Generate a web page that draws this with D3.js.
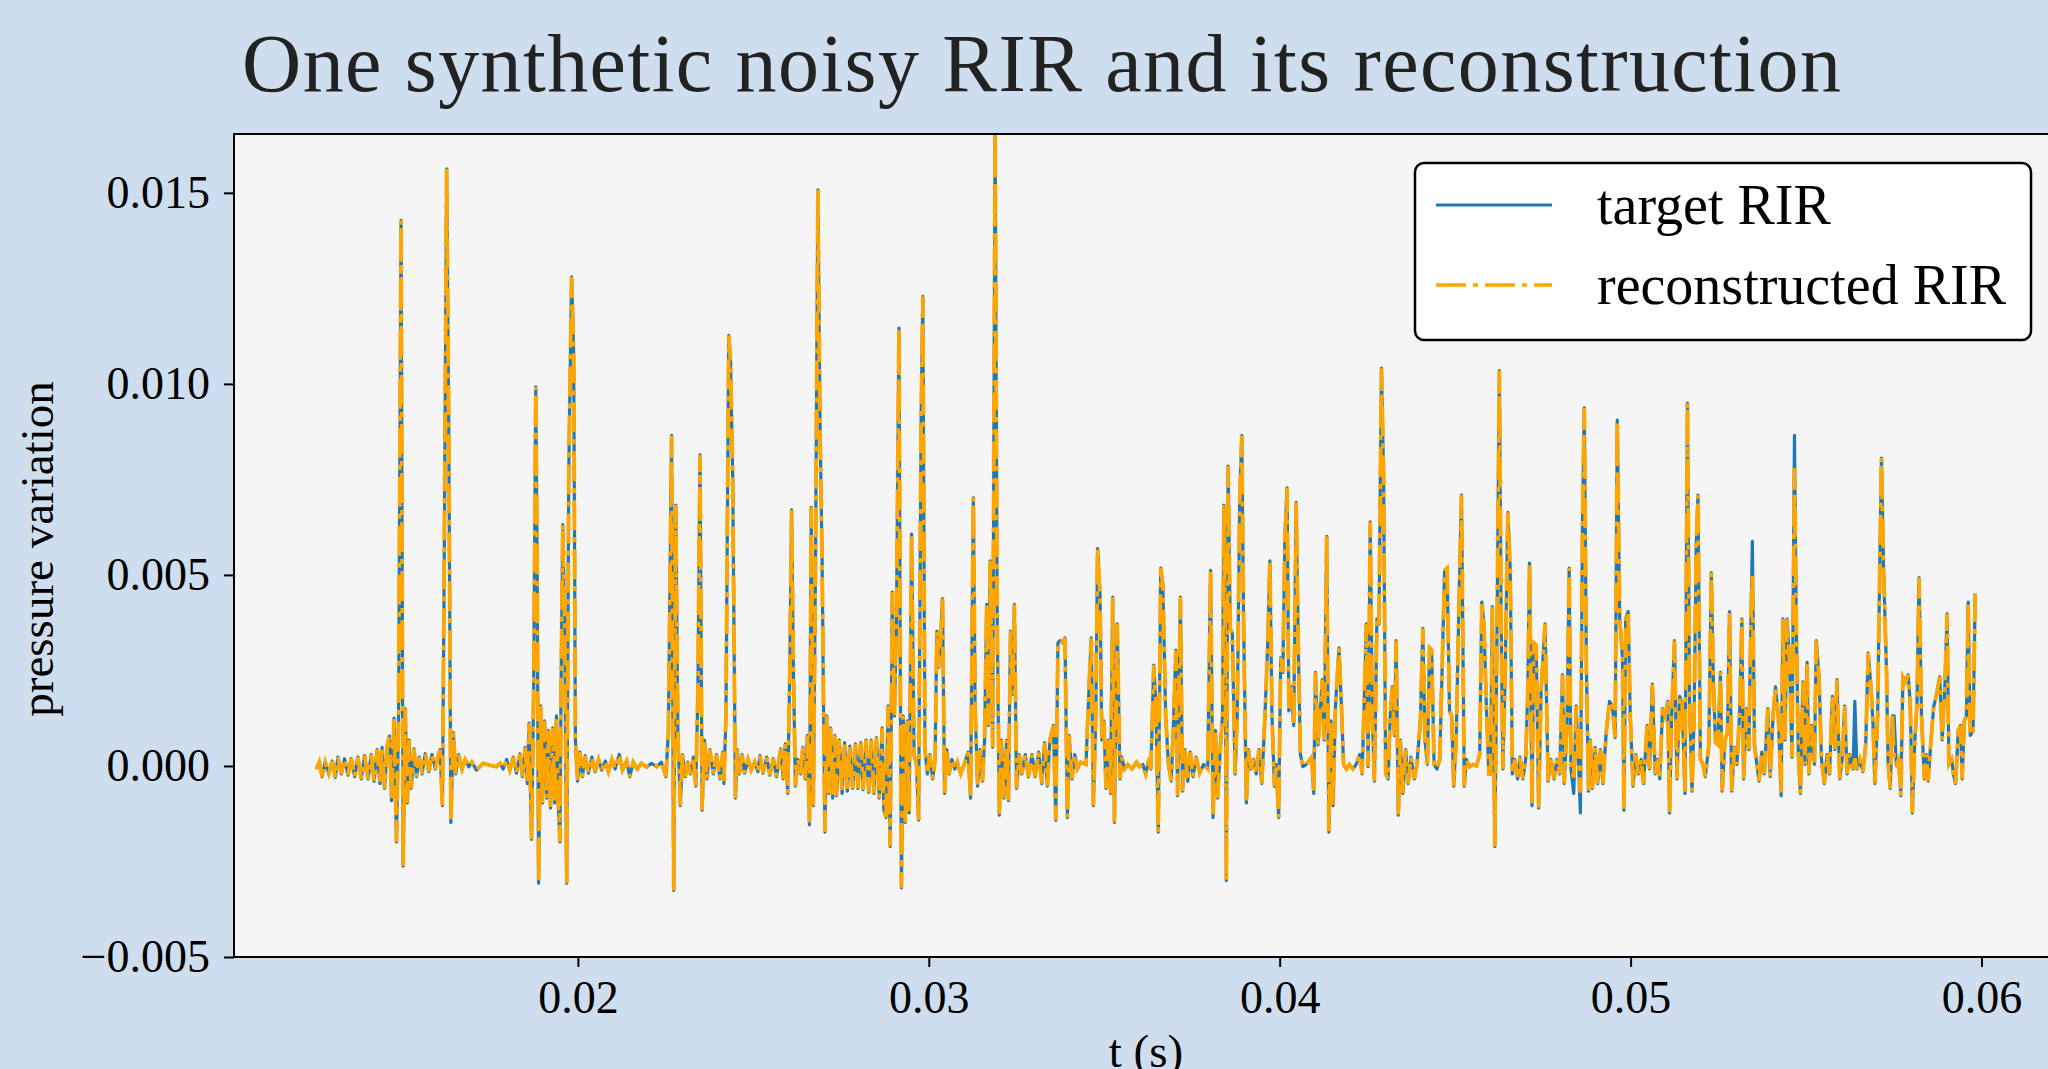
<!DOCTYPE html>
<html>
<head>
<meta charset="utf-8">
<script src="https://cdn.jsdelivr.net/npm/d3@7"></script>
<style>
  body { margin: 0; background: #cedeee; }
  svg { display: block; }
  text { font-family: "Liberation Serif", "Times New Roman", serif; fill: #000; }
</style>
</head>
<body>
<svg></svg>
<script>
// time in ms, pressure in units of 1e-3
let early = [
  [12.55,-0.08],[12.63,0.10],[12.71,-0.28],[12.80,0.10],[12.90,-0.20],[13.00,0.13],[13.09,-0.30],[13.16,0.23],
  [13.26,-0.21],[13.35,0.19],[13.45,-0.24],[13.54,0.19],[13.64,-0.28],[13.73,0.23],[13.83,-0.34],[13.92,0.27],
  [14.02,-0.34],[14.11,0.30],[14.19,-0.40],[14.28,0.43],[14.36,-0.46],[14.42,0.49],[14.49,-0.59],[14.57,0.55],
  [14.63,0.78],[14.69,-0.91],[14.76,1.25],[14.83,-1.99],[14.89,1.31],[14.96,14.28],[15.02,-2.62],[15.08,1.50],
  [15.14,-0.97],[15.19,0.68],[15.25,-0.59],[15.33,0.45],[15.40,-0.28],[15.48,0.23],[15.56,-0.21],[15.65,0.32],
  [15.75,-0.15],[15.84,0.30],[15.94,-0.08],[16.01,0.23],[16.07,0.43],[16.14,-1.04],[16.19,5.12],[16.26,15.63],
  [16.32,8.90],[16.38,-1.48],[16.45,0.87],[16.52,-0.21],[16.60,0.30],[16.70,-0.08],[16.79,0.17],[16.89,-0.02],
  [16.98,0.10],[17.11,-0.11],[17.30,0.07],[17.49,0.02],[17.68,-0.02],[17.78,0.07],[17.87,-0.08],[17.97,0.17],
  [18.06,-0.11],[18.16,0.23],[18.25,-0.19],[18.35,0.32],[18.42,-0.28],[18.50,0.49],[18.56,-0.46],[18.61,1.12],
  [18.68,-1.92],[18.74,1.95],[18.80,9.92],[18.84,5.12],[18.88,-3.07],[18.94,1.57],[18.99,-0.97],[19.05,1.18],
  [19.11,-0.84],[19.16,0.93],[19.22,-1.10],[19.28,1.00],[19.34,-0.97],[19.39,1.31],[19.44,-0.97],[19.49,-1.99],
  [19.52,1.95],[19.57,6.32],[19.63,3.22],[19.68,-3.07],[19.74,7.66],[19.82,12.80],[19.88,10.80],[19.93,0.68],
  [19.99,-0.40],[20.06,0.36],[20.13,-0.28],[20.21,0.27],[20.30,-0.19],[20.40,0.23],[20.49,-0.15],[20.59,0.17],
  [20.68,-0.11],[20.78,0.13],[20.87,-0.15],[20.97,0.17],[21.06,-0.08],[21.18,0.30],[21.27,-0.11],[21.39,0.13],
  [21.48,-0.28],[21.58,0.10],[21.69,-0.08],[21.81,0.07],[21.96,-0.03],[22.10,0.07],[22.24,-0.02],[22.38,0.10],
  [22.51,-0.28],[22.58,0.93],[22.67,8.65],[22.73,-3.26],[22.79,6.83],[22.85,0.80],[22.92,-1.04],[22.98,0.30],
  [23.06,-0.28],[23.13,0.10],[23.21,-0.21],[23.29,0.23],[23.36,-0.53],[23.42,1.95],[23.48,8.14],[23.54,-1.16],
  [23.61,0.68],[23.68,-0.34],[23.76,0.43],[23.86,-0.21],[23.95,0.30]
];

let middle = [
  [24.05,-0.34],[24.13,0.36],[24.16,-0.46],[24.22,1.31],[24.30,11.27],[24.35,10.58],[24.41,7.66],[24.49,-0.84],
  [24.54,0.43],[24.60,-0.21],[24.68,0.30],[24.75,-0.19],[24.85,0.17],[24.94,-0.11],[25.04,0.10],[25.13,-0.15],
  [25.19,0.27],[25.28,-0.19],[25.38,0.23],[25.47,-0.24],[25.57,0.19],[25.66,-0.28],[25.78,0.45],[25.85,-0.34],
  [25.91,0.58],[25.98,-0.72],[26.04,2.58],[26.09,6.70],[26.14,2.58],[26.20,-0.53],[26.27,0.17],[26.35,-0.21],
  [26.41,0.49],[26.48,-0.34],[26.54,0.80],[26.60,-1.54],[26.65,6.77],[26.71,-1.04],[26.77,5.12],[26.84,15.08],
  [26.90,8.93],[26.96,5.37],[27.00,1.57],[27.04,-1.73],[27.09,1.31],[27.15,-0.72],[27.20,1.00],[27.26,-0.84],
  [27.32,0.80],[27.37,-0.78],[27.45,0.68],[27.53,-0.72],[27.60,0.61],[27.68,-0.66],[27.75,0.52],[27.83,-0.59],
  [27.91,0.58],[27.98,-0.59],[28.06,0.61],[28.13,-0.62],[28.21,0.68],[28.29,-0.69],[28.36,0.68],[28.44,-0.72],
  [28.51,0.74],[28.59,-0.84],[28.67,1.00],[28.72,-1.16],[28.78,-1.35],[28.84,1.57],[28.90,-2.11],[28.96,4.55],
  [29.02,1.31],[29.08,3.85],[29.15,11.46],[29.19,2.07],[29.22,-3.19],[29.27,1.31],[29.33,-1.48],[29.39,1.18],
  [29.44,-1.23],[29.51,6.07],[29.58,0.30],[29.65,0.04],[29.71,-1.42],[29.78,8.93],[29.83,12.29],[29.89,0.43],
  [29.96,-0.21],[30.03,0.30],[30.11,-0.34],[30.18,0.17],[30.23,3.53],[30.28,2.58],[30.34,3.35],[30.39,4.38],
  [30.45,-0.72],[30.51,0.43],[30.58,-0.21],[30.66,0.17],[30.74,-0.08],[30.81,0.10],[30.91,-0.21],[31.02,0.07],
  [31.12,0.36],[31.19,-0.84],[31.27,7.02],[31.32,1.57],[31.39,-0.53],[31.46,0.43],[31.53,-0.40],[31.59,0.68],
  [31.65,4.23],[31.70,1.06],[31.75,5.37],[31.82,0.49],[31.89,16.60],[31.95,3.85],[32.01,-1.29],[32.07,0.68],
  [32.14,-0.84],[32.22,0.68],[32.27,-0.91],[32.33,3.53],[32.39,1.88],[32.44,4.23],[32.50,-0.59],[32.58,0.30],
  [32.65,-0.21],[32.75,0.30],[32.84,-0.28],[32.94,0.30],[33.03,-0.28],[33.13,0.36],[33.22,-0.46],[33.30,0.61],
  [33.38,-0.53],[33.45,0.68],[33.55,1.06],[33.62,-1.42],[33.68,3.22],[33.74,3.28],[33.81,3.22],[33.88,3.35],
  [33.95,-1.35],[34.00,0.80],[34.08,-0.34],[34.16,0.30],[34.23,-0.08],[34.33,0.10],[34.48,0.04],[34.59,2.58],
  [34.63,3.35],[34.69,-1.04],[34.76,1.31],[34.81,5.69],[34.88,4.48],[34.93,0.68],[34.99,1.18],[35.05,-0.59],
  [35.12,0.68],[35.18,-0.72],[35.24,4.42],[35.29,-1.48],[35.37,3.72],[35.45,-0.34],[35.50,0.23],[35.58,-0.08],
  [35.67,0.04],[35.79,-0.08],[35.92,0.10]
];

let late = [
  [36.01,-0.02],[36.10,0.04],[36.18,-0.21],[36.26,0.10],[36.33,-0.08],[36.41,2.64],[36.47,1.69],[36.54,-1.73],
  [36.61,5.18],[36.67,4.74],[36.75,1.31],[36.83,0.04],[36.91,-0.40],[36.98,1.31],[37.04,3.03],[37.09,-0.78],
  [37.17,4.42],[37.23,-0.66],[37.30,0.43],[37.38,-0.40],[37.45,0.36],[37.53,-0.28],[37.62,0.23],[37.72,-0.19],
  [37.83,0.04],[37.95,-0.08],[38.03,5.12],[38.10,-1.35],[38.17,0.93],[38.23,-0.84],[38.31,0.49],[38.37,1.31],
  [38.41,6.83],[38.45,3.22],[38.48,-3.00],[38.53,7.85],[38.59,3.60],[38.65,3.47],[38.73,-0.21],[38.79,1.31],
  [38.86,6.90],[38.92,8.65],[38.97,3.85],[39.05,-0.97],[39.11,0.43],[39.18,-0.08],[39.26,0.17],[39.33,-0.21],
  [39.41,0.43],[39.49,-0.46],[39.58,1.31],[39.66,3.22],[39.72,5.37],[39.78,1.31],[39.85,-0.53],[39.90,0.04],
  [39.97,-1.35],[40.03,2.83],[40.09,2.45],[40.15,6.01],[40.21,7.28],[40.26,1.44],[40.33,2.07],[40.40,1.06],
  [40.47,6.90],[40.53,3.09],[40.59,0.30],[40.66,-0.02],[40.76,0.04],[40.91,0.23],[40.97,-0.72],[41.02,2.45],
  [41.09,0.55],[41.15,1.31],[41.21,2.26],[41.27,0.68],[41.34,6.01],[41.40,-1.73],[41.46,1.18],[41.52,-1.04],
  [41.59,1.57],[41.69,3.09],[41.77,1.31],[41.82,0.04],[41.90,-0.08],[41.99,0.04],[42.09,-0.08],[42.18,0.04],
  [42.28,0.30],[42.35,-0.21],[42.42,2.07],[42.47,3.72],[42.52,-0.02],[42.58,6.39],[42.64,1.31],[42.70,-0.40],
  [42.77,3.85],[42.83,3.72],[42.90,10.41],[42.96,7.66],[43.02,-0.21],[43.09,-0.34],[43.15,1.31],[43.21,2.07],
  [43.27,0.80],[43.32,3.28],[43.38,-1.29],[43.44,0.68],[43.51,-0.72],[43.59,0.43],[43.66,-0.46],[43.74,0.23],
  [43.84,-0.34],[43.91,0.04],[44.01,1.18],[44.08,3.60],[44.14,0.68],[44.21,0.04],[44.27,3.09],[44.33,3.03],
  [44.40,0.04],[44.48,-0.08],[44.56,0.17],[44.63,2.58],[44.70,5.12],[44.77,5.18],[44.84,1.44],[44.90,1.31],
  [44.96,-0.53],[45.03,0.68],[45.10,3.85],[45.18,7.09],[45.26,-0.53],[45.32,0.17],[45.41,-0.02],[45.51,0.04],
  [45.61,0.00],[45.70,0.30],[45.76,4.29],[45.82,3.72],[45.89,1.57],[45.96,-0.21],[46.01,-0.21],[46.06,4.17],
  [46.13,-2.11],[46.19,3.22],[46.26,10.35],[46.31,3.85],[46.36,-0.08],[46.43,2.58],[46.50,6.64],[46.57,5.12],
  [46.63,-0.21],[46.70,0.17],[46.78,-0.34],[46.85,0.23],[46.93,-0.34],[47.01,0.17],[47.07,1.95],[47.12,5.31],
  [47.19,-1.04],[47.24,3.22],[47.31,3.16],[47.38,-1.10],[47.45,1.95],[47.56,3.72],[47.65,-0.40],[47.73,0.17],
  [47.82,-0.34],[47.90,0.17]
];

let tail = [
  [47.98,-0.21],[48.06,2.39],[48.11,-0.46],[48.19,1.18],[48.25,5.18],[48.30,-0.08],[48.38,-0.72],[48.45,1.57],
  [48.51,0.17],[48.57,-1.23],[48.63,6.39],[48.68,9.37],[48.74,2.58],[48.80,-0.66],[48.85,0.68],[48.91,-0.59],
  [48.99,0.49],[49.06,-0.46],[49.14,0.43],[49.21,-0.46],[49.31,0.93],[49.40,1.69],[49.48,1.57],[49.56,0.74],
  [49.62,9.05],[49.69,3.85],[49.77,2.83],[49.81,-1.16],[49.86,3.85],[49.93,4.04],[49.99,1.31],[50.07,-0.53],
  [50.15,0.30],[50.22,-0.21],[50.30,0.17],[50.37,-0.46],[50.47,1.06],[50.54,-0.08],[50.62,2.14],[50.70,-0.21],
  [50.77,0.17],[50.83,-0.34],[50.91,1.50],[50.98,1.31],[51.06,1.69],[51.11,-1.23],[51.17,1.31],[51.25,3.28],
  [51.32,-0.34],[51.40,1.82],[51.47,1.63],[51.55,-0.72],[51.62,9.50],[51.68,1.69],[51.75,-0.66],[51.81,1.31],
  [51.87,5.75],[51.92,7.09],[51.99,0.17],[52.06,0.04],[52.13,-0.28],[52.23,0.55],[52.30,5.06],[52.36,2.20],
  [52.42,0.61],[52.49,0.55],[52.56,2.45],[52.61,-0.66],[52.69,0.68],[52.76,0.87],[52.82,4.04],[52.88,-0.66],
  [52.96,0.49],[53.03,0.04],[53.11,1.44],[53.17,3.85],[53.22,-0.34],[53.30,1.50],[53.37,0.43],[53.43,3.85],
  [53.47,5.88],[53.53,0.55],[53.60,0.04],[53.66,-0.40],[53.74,0.36],[53.81,-0.21],[53.91,1.50],[53.98,-0.28],
  [54.06,1.31],[54.13,2.07],[54.21,1.31],[54.29,-0.78],[54.34,3.85],[54.40,0.68],[54.46,3.85],[54.53,2.71],
  [54.60,0.23],[54.67,8.65],[54.72,3.85],[54.78,0.30],[54.84,-0.72],[54.91,2.20],[54.97,0.04],[55.03,2.71],
  [55.08,-0.21],[55.16,1.06],[55.24,0.04],[55.29,3.28],[55.37,2.33],[55.44,0.17],[55.52,-0.46],[55.60,0.30],
  [55.67,-0.21],[55.75,1.82],[55.82,0.43],[55.88,2.26],[55.96,-0.34],[56.03,0.17],[56.10,1.57],[56.17,-0.21],
  [56.24,0.30],[56.34,-0.08],[56.39,1.69],[56.45,-0.08],[56.53,0.17],[56.62,-0.15],[56.70,0.55],[56.77,2.96],
  [56.85,2.07],[56.91,1.06],[56.96,-0.46],[57.04,1.31],[57.10,5.12],[57.15,8.06],[57.21,5.12],[57.29,2.58],
  [57.34,0.04],[57.40,-0.59],[57.46,1.31],[57.51,1.31],[57.57,0.04],[57.64,0.17],[57.70,-0.78],[57.76,2.33],
  [57.84,2.20],[57.91,2.39],[57.97,1.63],[58.03,-1.23],[58.10,0.68],[58.16,1.57],[58.22,4.93],[58.29,1.31],
  [58.37,-0.34],[58.43,0.30],[58.48,-0.40],[58.56,0.68],[58.64,1.57],[58.71,1.82],[58.81,2.33],[58.88,0.68],
  [58.96,2.20],[59.02,3.98],[59.07,0.04],[59.15,0.17],[59.20,-0.21],[59.26,-0.46],[59.34,0.93],[59.40,1.06],
  [59.45,-0.34],[59.51,1.18],[59.57,1.31],[59.62,4.29],[59.68,0.80],[59.76,0.93],[59.82,4.51]
];

// where the reconstruction differs visibly from the target (time ms, value 1e-3)
let reconDiffs = [[48.38,-0.30],[48.57,-0.70],[53.47,5.00],[54.67,7.80],[56.39,0.20],[57.51,0.17]];

let yTicks = [-0.005, 0, 0.005, 0.010, 0.015];
let xTicks = [0.02, 0.03, 0.04, 0.05, 0.06];

let width = 2048;
let height = 1069;
let plotLeft = 234, plotRight = 2058, plotTop = 134, plotBottom = 957;

let target = early.concat(middle, late, tail).map(d => ({ t: d[0] / 1000, p: d[1] / 1000 }));
let diffMap = new Map(reconDiffs.map(d => [d[0], d[1]]));
let recon = early.concat(middle, late, tail).map(d => ({
  t: d[0] / 1000,
  p: (diffMap.has(d[0]) ? diffMap.get(d[0]) : d[1]) / 1000
}));

let xScale = d3.scaleLinear().domain([0.0102, 0.06218]).range([plotLeft, plotRight]);
let yScale = d3.scaleLinear().domain([-0.005, 0.01654]).range([plotBottom, plotTop]);

let svg = d3.select('svg')
  .attr('width', width)
  .attr('height', height);

svg.append('rect')
  .attr('width', width)
  .attr('height', height)
  .attr('fill', '#cedeee');

svg.append('rect')
  .attr('x', plotLeft)
  .attr('y', plotTop)
  .attr('width', plotRight - plotLeft)
  .attr('height', plotBottom - plotTop)
  .attr('fill', '#f5f5f5');

svg.append('clipPath')
  .attr('id', 'plot-clip')
  .append('rect')
  .attr('x', plotLeft)
  .attr('y', plotTop)
  .attr('width', plotRight - plotLeft)
  .attr('height', plotBottom - plotTop);

let line = d3.line()
  .x(d => xScale(d.t))
  .y(d => yScale(d.p));

let plot = svg.append('g').attr('clip-path', 'url(#plot-clip)');

plot.append('path')
  .datum(target)
  .attr('d', line)
  .attr('fill', 'none')
  .attr('stroke', '#1f77b4')
  .attr('stroke-width', 3.2)
  .attr('stroke-linejoin', 'round');

plot.append('path')
  .datum(recon)
  .attr('d', line)
  .attr('fill', 'none')
  .attr('stroke', '#ffa500')
  .attr('stroke-width', 3.8)
  .attr('stroke-dasharray', '30,7,5,7');

svg.append('rect')
  .attr('x', plotLeft)
  .attr('y', plotTop)
  .attr('width', plotRight - plotLeft)
  .attr('height', plotBottom - plotTop)
  .attr('fill', 'none')
  .attr('stroke', '#000')
  .attr('stroke-width', 2);

let fmtY = d => (d < 0 ? '\u2212' : '') + Math.abs(d).toFixed(3);

svg.append('g')
  .attr('transform', 'translate(' + plotLeft + ',0)')
  .call(d3.axisLeft(yScale).tickValues(yTicks).tickFormat(fmtY).tickSize(10).tickPadding(14).tickSizeOuter(0));

svg.append('g')
  .attr('transform', 'translate(0,' + plotBottom + ')')
  .call(d3.axisBottom(xScale).tickValues(xTicks).tickFormat(d3.format('.2f')).tickSize(10).tickPadding(13).tickSizeOuter(0));

svg.selectAll('.domain').remove();
svg.selectAll('.tick line').attr('stroke', '#000').attr('stroke-width', 2);
svg.selectAll('.tick text')
  .attr('fill', '#000')
  .style('font-family', '"Liberation Serif", serif')
  .style('font-size', '46px');

svg.append('text')
  .attr('x', 242)
  .attr('y', 91)
  .attr('textLength', 1599)
  .attr('lengthAdjust', 'spacing')
  .style('font-size', '82px')
  .style('fill', '#222')
  .text('One synthetic noisy RIR and its reconstruction');

svg.append('text')
  .attr('transform', 'translate(53,549) rotate(-90)')
  .style('text-anchor', 'middle')
  .style('font-size', '47px')
  .text('pressure variation');

svg.append('text')
  .attr('x', (plotLeft + plotRight) / 2)
  .attr('y', 1067)
  .style('text-anchor', 'middle')
  .style('font-size', '47px')
  .text('t (s)');

// legend
let legend = svg.append('g');

legend.append('rect')
  .attr('x', 1415)
  .attr('y', 163)
  .attr('width', 616)
  .attr('height', 177)
  .attr('rx', 9)
  .attr('fill', '#fff')
  .attr('stroke', '#000')
  .attr('stroke-width', 2.5);

let legendItems = [
  { label: 'target RIR', color: '#1f77b4', dash: null, width: 3, y: 205 },
  { label: 'reconstructed RIR', color: '#ffa500', dash: '30,7,5,7', width: 3.6, y: 285 }
];

legend.selectAll('line')
  .data(legendItems)
  .enter()
  .append('line')
  .attr('x1', 1436)
  .attr('x2', 1552)
  .attr('y1', d => d.y)
  .attr('y2', d => d.y)
  .attr('stroke', d => d.color)
  .attr('stroke-width', d => d.width)
  .attr('stroke-dasharray', d => d.dash);

legend.selectAll('text')
  .data(legendItems)
  .enter()
  .append('text')
  .attr('x', 1597)
  .attr('y', d => d.y + 19)
  .style('font-size', '56px')
  .text(d => d.label);
</script>
</body>
</html>
